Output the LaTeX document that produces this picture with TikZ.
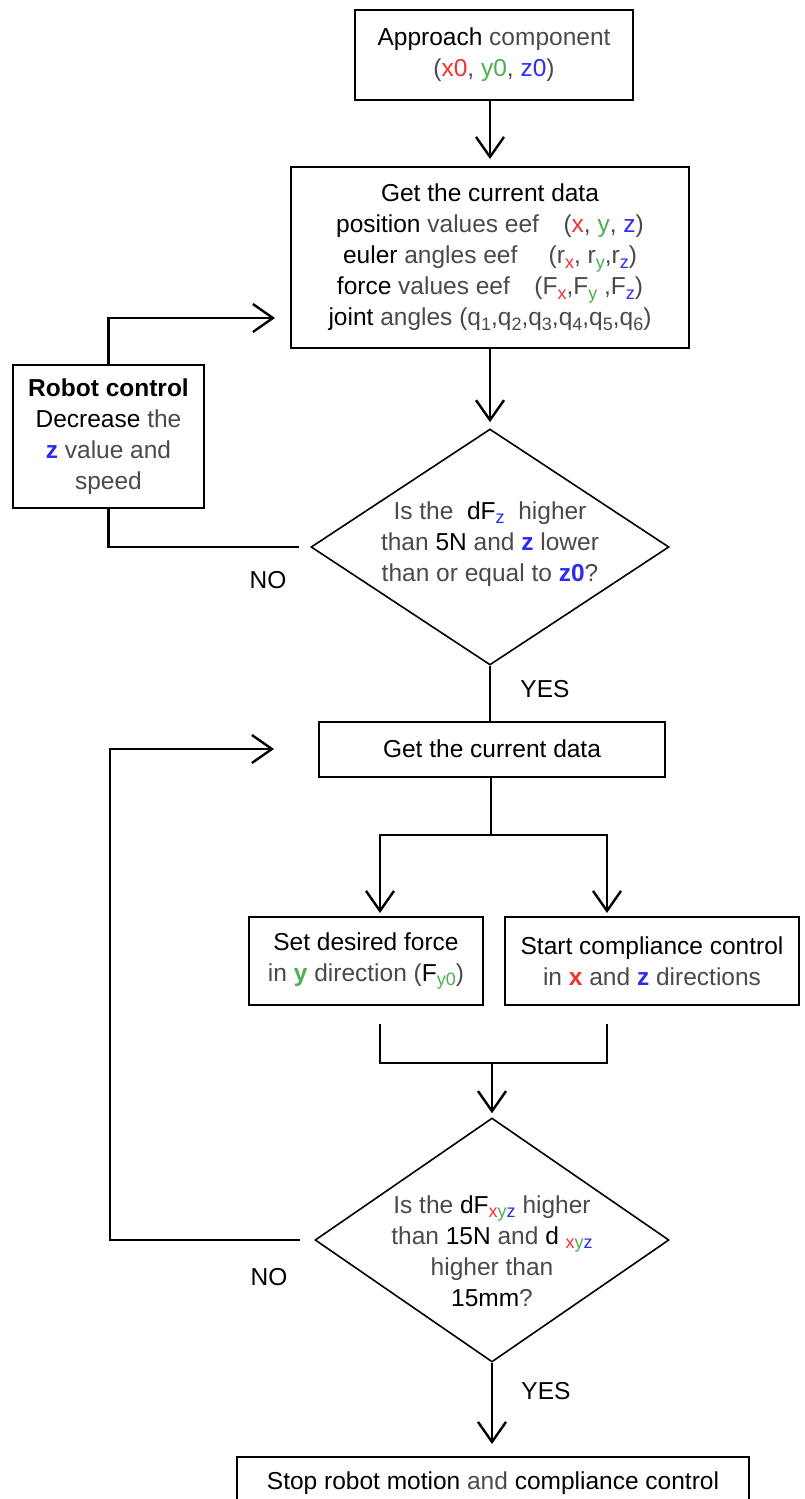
\documentclass[tikz,border=0pt]{standalone}
\usepackage{fontspec}
\setmainfont{Liberation Sans}
\usetikzlibrary{arrows.meta,shapes.geometric,calc}
\definecolor{cr}{HTML}{F53030}
\definecolor{cg}{HTML}{4CAF50}
\definecolor{cb}{HTML}{2B2BF5}
\definecolor{tg}{HTML}{4A4A4A}
\newcommand{\xr}[1]{\textcolor{cr}{#1}}
\newcommand{\xg}[1]{\textcolor{cg}{#1}}
\newcommand{\xb}[1]{\textcolor{cb}{#1}}
\newcommand{\K}[1]{\textcolor{black}{#1}}
\newcommand{\sbx}[1]{\raisebox{-0.35ex}{\fontsize{18}{18}\selectfont #1}}
\begin{document}
\begin{tikzpicture}[x=1pt,y=-1pt,
  every node/.style={font=\fontsize{24.5}{31}\selectfont, text=tg, align=center},
  box/.style={draw, line width=2pt, inner sep=0pt},
  dia/.style={draw, diamond, line width=1.6pt, inner sep=0pt},
  conn/.style={line width=2.4pt},
  arr/.style={conn, -{Straight Barb[length=20pt,width=28pt]}}]
\useasboundingbox (0,0) rectangle (804,1499);
\fill[white] (0,0) rectangle (804,1499);

\node[box, minimum width=278pt, minimum height=90pt] (b1) at (494,55)
  {\K{Approach} component\\(\xr{x0}, \xg{y0}, \xb{z0})};
\node[box, minimum width=398pt, minimum height=181pt] (b2) at (490,257.5)
  {\K{Get the current data}\\
   \K{position} values eef\quad(\xr{x}, \xg{y}, \xb{z})\\
   \K{euler} angles eef\quad\ (r\sbx{\xr{x}}, r\sbx{\xg{y}},r\sbx{\xb{z}})\\
   \K{force} values eef\quad(F\sbx{\xr{x}},F\sbx{\xg{y}} ,F\sbx{\xb{z}})\\
   \K{joint} angles (q\sbx{1},q\sbx{2},q\sbx{3},q\sbx{4},q\sbx{5},q\sbx{6})};
\node[dia, minimum width=358pt, minimum height=236pt] (d1) at (490,547) {};
\node (d1t) at (490,544)
  {Is the \ \K{dF}\sbx{\xb{z}} \ higher\\than \K{5N} and \textbf{\xb{z}} lower\\than or equal to \textbf{\xb{z0}}?};
\node[box, minimum width=191pt, minimum height=143pt] (rc) at (108.5,436.5)
  {\textbf{\K{Robot control}}\\\K{Decrease} the\\\textbf{\xb{z}} value and\\speed};
\node[box, minimum width=346pt, minimum height=55pt] (b3) at (492,749) {\K{Get the current data}};
\node[box, minimum width=234pt, minimum height=88pt] (bL) at (366,961)
  {\K{Set desired force}\\in \textbf{\xg{y}} direction (\K{F}\sbx{\xg{y0}})};
\node[box, minimum width=294pt, minimum height=88pt] (bR) at (652,961)
  {\K{Start compliance control}\\in \textbf{\xr{x}} and \textbf{\xb{z}} directions};
\node[dia, minimum width=354pt, minimum height=244pt] (d2) at (492,1240) {};
\node (d2t) at (492,1251)
  {Is the \K{dF}\sbx{\xr{x}\xg{y}\xb{z}} higher\\than \K{15N} and \K{d} \sbx{\xr{x}\xg{y}\xb{z}}\\higher than\\\K{15mm}?};
\node[box, minimum width=512pt, minimum height=52pt] (fin) at (493,1483)
  {\K{Stop robot motion} and \K{compliance control}};

\node (no1) at (268,580) {\K{NO}};
\node (yes1) at (545,689) {\K{YES}};
\node (no2) at (269,1277) {\K{NO}};
\node (yes2) at (546,1391) {\K{YES}};

\draw[arr, shorten >=7pt] (b1.south -| b2.north) -- (b2.north);
\draw[arr, shorten >=6pt] (b2.south) -- (d1.north);
\draw[conn] (d1.south) -- (b3.north -| d1.south);
\draw[conn, shorten <=11pt] (d1.west) -| (rc.south);
\coordinate (in1) at (291,318);
\draw[arr, shorten >=16pt] (rc.north) |- (in1);

\coordinate (sp) at (491,835);
\coordinate (cL) at (380,835);
\coordinate (cR) at (607,835);
\draw[conn] (b3.south -| sp) -- (sp);
\draw[arr, shorten >=3pt] (sp) -| (cL |- bL.north);
\draw[arr, shorten >=3pt] (sp) -| (cR |- bR.north);

\coordinate (mg) at (492,1063);
\draw[conn] ($(cL |- bL.south)+(0,18)$) |- (mg) -| ($(cR |- bR.south)+(0,18)$);
\draw[arr, shorten >=4pt] (mg) -- (d2.north);

\coordinate (lx) at (110,0);
\draw[arr, shorten <=14pt, shorten >=44pt] (d2.west) -- (d2.west -| lx) |- (b3.west);
\draw[arr, shorten >=12pt] (d2.south) -- (fin.north -| d2.south);
\end{tikzpicture}
\end{document}
